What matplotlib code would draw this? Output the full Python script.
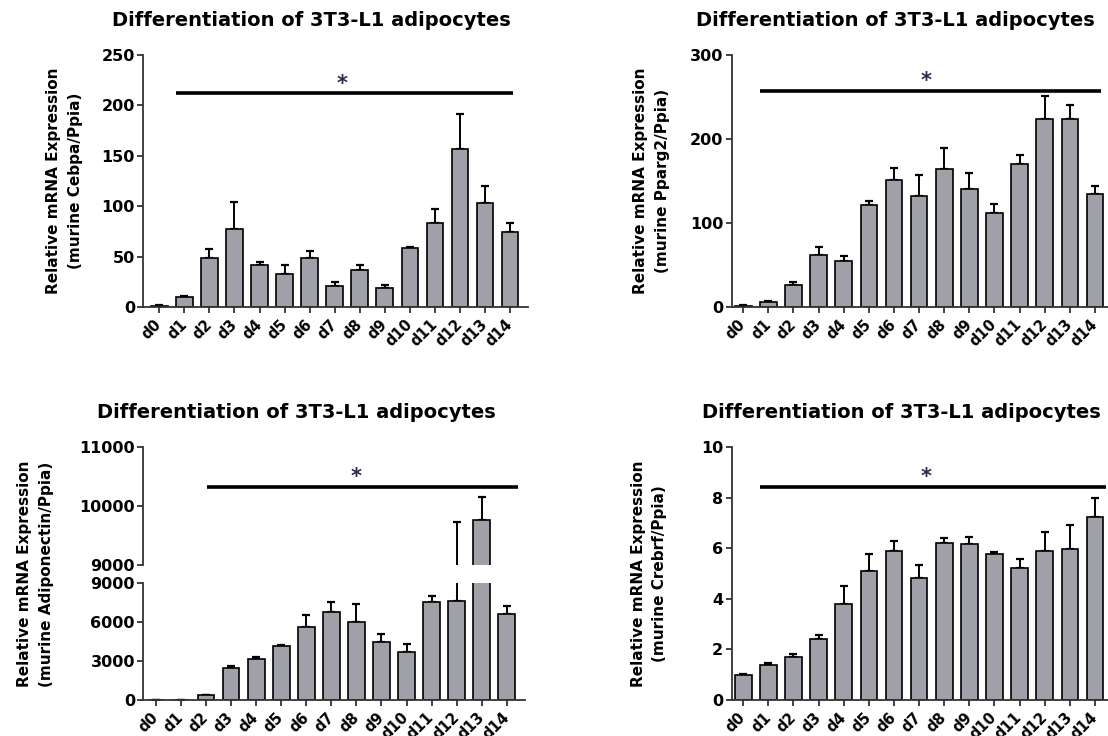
import matplotlib
matplotlib.use("Agg")
import matplotlib.pyplot as plt
import numpy as np

days = ['d0', 'd1', 'd2', 'd3', 'd4', 'd5', 'd6', 'd7', 'd8', 'd9', 'd10', 'd11', 'd12', 'd13', 'd14']

cebpa = [1, 9.6, 49, 77, 41.7, 32.4, 48.5, 21.3, 37, 18.5, 58.2, 83.6, 157, 103.5, 74.7]
cebpa_sem = [0.5, 0.9, 8.5, 27, 2.6, 8.9, 7.5, 3.7, 4.6, 3.3, 1.0, 13.9, 34.8, 16.2, 8.3]

pparg2 = [1.2, 5.2, 26.2, 61.2, 54.5, 120.8, 150.8, 132.3, 164.5, 140.3, 112, 170, 223.3, 223.7, 134]
pparg2_sem = [0.4, 1.2, 2.8, 10.3, 5.9, 5.6, 15, 25.1, 25, 19.4, 10.4, 10.4, 27.7, 17.1, 9.5]

adipoq = [0, 0, 360, 2467, 3187, 4163, 5650, 6780, 5990, 4498, 3726, 7531, 7633, 9762, 6630]
adipoq_sem = [0, 0, 50, 180, 154, 52, 900, 800, 1387, 566, 566, 514, 2095, 396, 593]

crebrf = [1.0, 1.37, 1.71, 2.41, 3.79, 5.10, 5.91, 4.83, 6.21, 6.19, 5.78, 5.22, 5.91, 5.98, 7.24]
crebrf_sem = [0.04, 0.08, 0.10, 0.17, 0.73, 0.66, 0.37, 0.53, 0.21, 0.26, 0.09, 0.35, 0.72, 0.95, 0.77]

title = 'Differentiation of 3T3-L1 adipocytes'
ylab_top = 'Relative mRNA Expression'

plt.rcParams['font.family'] = ['DejaVu Sans']
plt.rcParams['font.weight'] = 'bold'

BAR = '#a0a0a8'
AX = '#333333'
STAR = '#2b2b4b'
W = 1108
H = 736


def box(x0, y0, x1, y1):
    # pixel box -> figure fraction
    return [x0 / W, 1 - y1 / H, (x1 - x0) / W, (y1 - y0) / H]


def style(ax, bottom=True):
    for s in ['top', 'right']:
        ax.spines[s].set_visible(False)
    ax.spines['left'].set_color(AX)
    ax.spines['left'].set_linewidth(1.3)
    ax.spines['bottom'].set_color(AX)
    ax.spines['bottom'].set_linewidth(1.3)
    ax.tick_params(direction='out', length=4, width=1.3, color=AX, labelsize=11.5, pad=2)
    if not bottom:
        ax.spines['bottom'].set_visible(False)
        ax.tick_params(axis='x', bottom=False, labelbottom=False)


def bars(ax, vals, errs):
    x = np.arange(len(vals))
    ax.bar(x, vals, width=0.66, color=BAR, edgecolor='black', linewidth=1.2, zorder=2)
    ax.errorbar(x, vals, yerr=[np.zeros(len(errs)), errs], fmt='none', ecolor='black',
                elinewidth=1.4, capsize=2.6, capthick=1.6, zorder=1)


def xlabels(ax):
    ax.set_xticks(np.arange(len(days)))
    ax.set_xticklabels(days, rotation=45, ha='right', va='center', rotation_mode='anchor')
    ax.tick_params(axis='x', pad=7, labelsize=10.5)


def sig(ax, x0, x1, y, xs):
    ax.plot([x0, x1], [y, y], color='black', lw=2.6, clip_on=False, solid_capstyle='butt')
    ax.annotate('*', xy=(xs, y), xytext=(0, 7), textcoords='offset points', ha='center',
                va='center', fontsize=15, color=STAR, annotation_clip=False)


fig = plt.figure(figsize=(W / 100, H / 100), dpi=100)

# Cebpa
ax1 = fig.add_axes(box(143.3, 55, 528, 307))
bars(ax1, cebpa, cebpa_sem)
ax1.set_ylim(0, 250)
ax1.set_yticks([0, 50, 100, 150, 200, 250])
ax1.set_xlim(-0.64, 14.72)
style(ax1)
xlabels(ax1)
sig(ax1, 0.68, 14.12, 212, 7.3)
fig.text(311 / W, 1 - 20 / H, title, ha='center', va='center', fontsize=14)
fig.text(64.5 / W, 1 - 181 / H, ylab_top + '\n(murine Cebpa/Ppia)', rotation=90,
         ha='center', va='center', fontsize=11, linespacing=1.55)

# Pparg2
ax2 = fig.add_axes(box(731.7, 55, 731.7 + 15.16 * 25.12, 306.7))
bars(ax2, pparg2, pparg2_sem)
ax2.set_ylim(0, 300)
ax2.set_yticks([0, 100, 200, 300])
ax2.set_xlim(-0.46, 14.7)
style(ax2)
xlabels(ax2)
sig(ax2, 0.66, 14.24, 257, 7.27)
fig.text(895 / W, 1 - 20 / H, title, ha='center', va='center', fontsize=14)
fig.text(651.5 / W, 1 - 181 / H, ylab_top + '\n(murine Pparg2/Ppia)', rotation=90,
         ha='center', va='center', fontsize=11, linespacing=1.55)

# Adiponectin, broken y axis
ax3u = fig.add_axes(box(143.3, 447.3, 525, 565))
ax3l = fig.add_axes(box(143.3, 583.3, 525, 700))
for a in (ax3u, ax3l):
    bars(a, adipoq, adipoq_sem)
    a.set_xlim(-0.51, 14.73)
ax3u.set_ylim(9000, 11000)
ax3u.set_yticks([9000, 10000, 11000])
ax3l.set_ylim(0, 9000)
ax3l.set_yticks([0, 3000, 6000, 9000])
style(ax3u, bottom=False)
style(ax3l)
xlabels(ax3l)
sig(ax3u, 2.05, 14.44, 10328, 8.0)
fig.text(296 / W, 1 - 413 / H, title, ha='center', va='center', fontsize=14)
fig.text(35.5 / W, 1 - 574 / H, ylab_top + '\n(murine Adiponectin/Ppia)', rotation=90,
         ha='center', va='center', fontsize=11, linespacing=1.55)

# Crebrf
ax4 = fig.add_axes(box(731.7, 447.3, 731.7 + 15.16 * 25.12, 700))
bars(ax4, crebrf, crebrf_sem)
ax4.set_ylim(0, 10)
ax4.set_yticks([0, 2, 4, 6, 8, 10])
ax4.set_xlim(-0.46, 14.7)
style(ax4)
xlabels(ax4)
sig(ax4, 0.66, 14.43, 8.44, 7.27)
fig.text(901 / W, 1 - 413 / H, title, ha='center', va='center', fontsize=14)
fig.text(649 / W, 1 - 574 / H, ylab_top + '\n(murine Crebrf/Ppia)', rotation=90,
         ha='center', va='center', fontsize=11, linespacing=1.55)

fig.savefig('out.png', dpi=100)
